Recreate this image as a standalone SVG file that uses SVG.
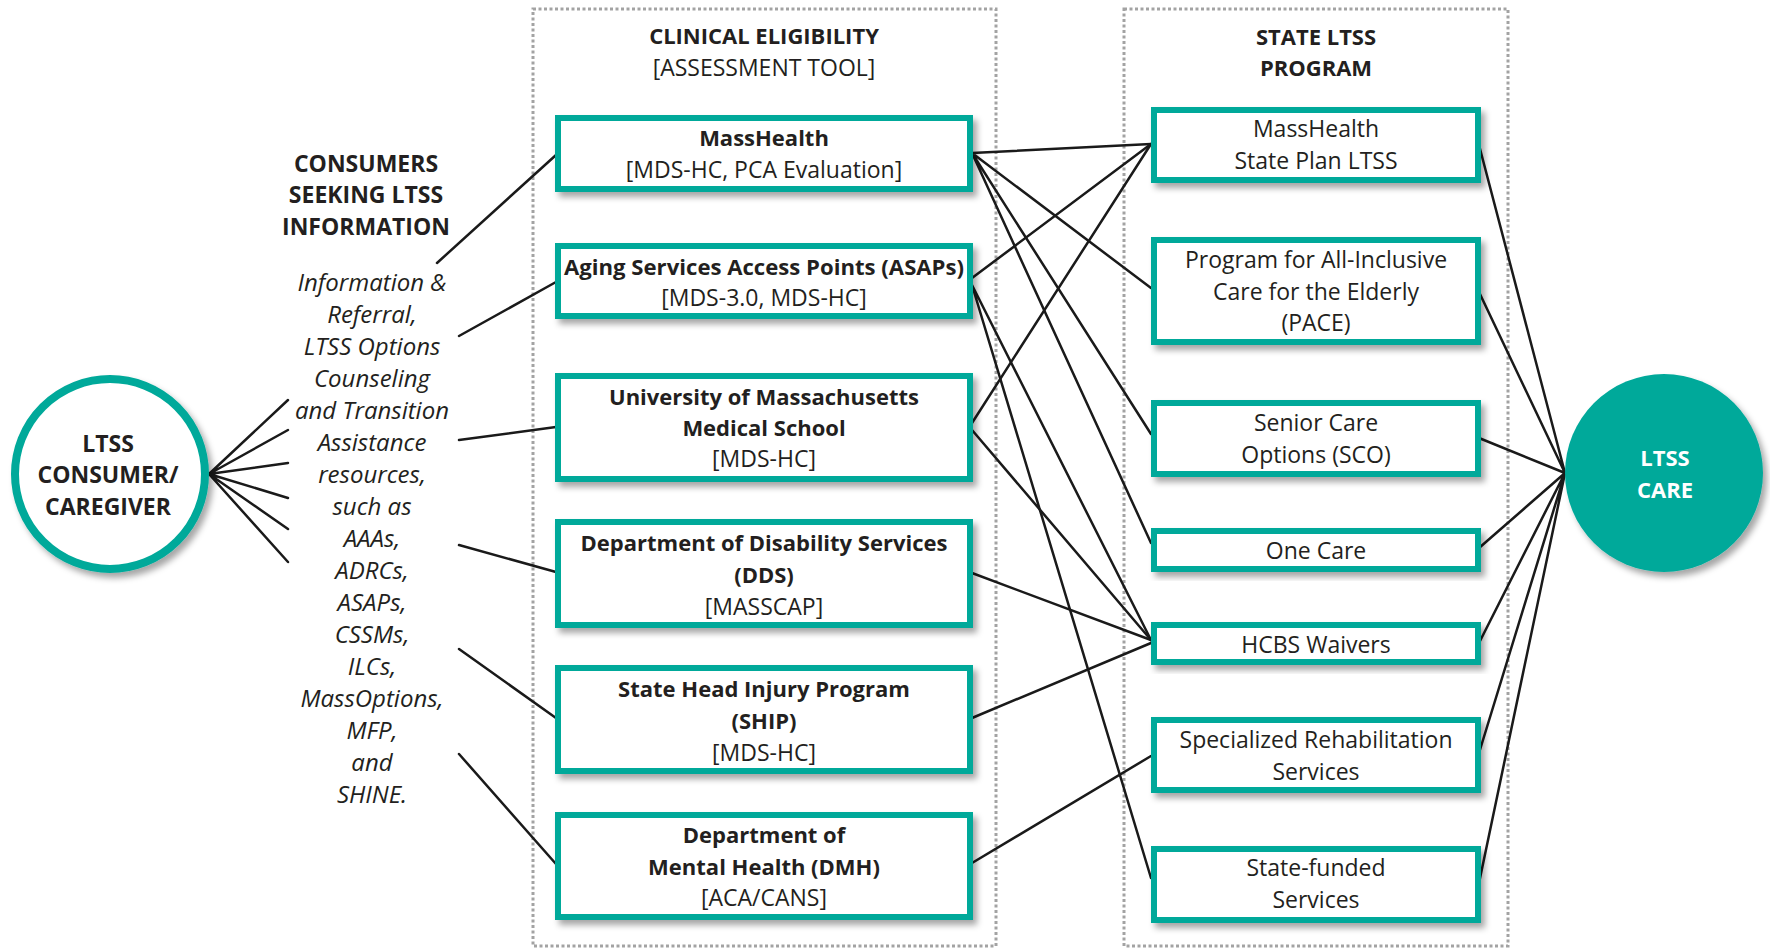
<svg xmlns="http://www.w3.org/2000/svg" width="1770" height="949" viewBox="0 0 1770 949">
<defs>
<filter id="sh" x="-10%" y="-20%" width="130%" height="150%">
<feDropShadow dx="4" dy="5" stdDeviation="3" flood-color="#000" flood-opacity="0.35"/>
</filter>
<style>
.t{font-family:"Open Sans","Noto Sans",sans-serif;font-size:23px;fill:#231f20;text-anchor:middle}
.b{font-weight:bold;font-size:22px}
.h{font-size:23px}
.i{font-style:italic;font-size:24px}
.box{fill:#fff;stroke:#00a99a;stroke-width:6;filter:url(#sh)}
.cont{fill:none;stroke:#a3a3a3;stroke-width:3;stroke-dasharray:3 2.5}
.ln{stroke:#1a1a1a;stroke-width:2.5;fill:none;stroke-linecap:round}
.w{fill:#fff}
</style>
</defs>
<rect width="1770" height="949" fill="#fff"/>

<g id="containers">
<rect class="cont" x="533" y="9" width="463" height="937"/>
<rect class="cont" x="1124" y="9" width="384" height="937"/>
</g>

<g id="titles">
<text class="t b" x="764" y="44">CLINICAL ELIGIBILITY</text>
<text class="t" x="764" y="76">[ASSESSMENT TOOL]</text>
<text class="t b" x="1316" y="45">STATE LTSS</text>
<text class="t b" x="1316" y="76">PROGRAM</text>
</g>

<g id="connectors">
<path class="ln" d="M209 474L288 400M209 474L288 430M209 474L288 463M209 474L288 498M209 474L288 529M209 474L288 562"/>
<path class="ln" d="M437 263L556 155M459 336L556 282M459 440L556 427M459 545L556 572M459 649L556 718M459 754L556 864"/>
<path class="ln" d="M972 153L1151 144M972 153L1151 288M972 153L1151 434M972 153L1151 543"/>
<path class="ln" d="M972 278L1151 144M972 285L1151 640M972 285L1151 878"/>
<path class="ln" d="M972 423L1151 144M972 430L1151 640"/>
<path class="ln" d="M972 573L1151 640M972 718L1151 643M972 863L1151 756"/>
<path class="ln" d="M1479 145L1565 473M1479 292L1565 473M1479 438L1565 473M1479 548L1565 473M1479 643L1565 473M1479 753L1565 473M1479 883L1565 473"/>
</g>

<g id="consumer">
<circle cx="110" cy="474" r="95" fill="#fff" stroke="#00a99a" stroke-width="8" filter="url(#sh)"/>
<text class="t b h" x="108" y="452">LTSS</text>
<text class="t b h" x="108" y="483">CONSUMER/</text>
<text class="t b h" x="108" y="515">CAREGIVER</text>
</g>

<g id="info">
<text class="t b h" x="366" y="172">CONSUMERS</text>
<text class="t b h" x="366" y="203">SEEKING LTSS</text>
<text class="t b h" x="366" y="235">INFORMATION</text>
<text class="t i" x="372" y="291">Information &amp;</text>
<text class="t i" x="372" y="323">Referral,</text>
<text class="t i" x="372" y="355">LTSS Options</text>
<text class="t i" x="372" y="387">Counseling</text>
<text class="t i" x="372" y="419">and Transition</text>
<text class="t i" x="372" y="451">Assistance</text>
<text class="t i" x="372" y="483">resources,</text>
<text class="t i" x="372" y="515">such as</text>
<text class="t i" x="372" y="547">AAAs,</text>
<text class="t i" x="372" y="579">ADRCs,</text>
<text class="t i" x="372" y="611">ASAPs,</text>
<text class="t i" x="372" y="643">CSSMs,</text>
<text class="t i" x="372" y="675">ILCs,</text>
<text class="t i" x="372" y="707">MassOptions,</text>
<text class="t i" x="372" y="739">MFP,</text>
<text class="t i" x="372" y="771">and</text>
<text class="t i" x="372" y="803">SHINE.</text>
</g>

<g id="masshealth">
<rect class="box" x="558" y="118" width="412" height="71"/>
<text class="t b" x="764" y="146">MassHealth</text>
<text class="t" x="764" y="178">[MDS-HC, PCA Evaluation]</text>
</g>
<g id="asaps">
<rect class="box" x="558" y="246" width="412" height="70"/>
<text class="t b" x="764" y="275" textLength="400" lengthAdjust="spacingAndGlyphs">Aging Services Access Points (ASAPs)</text>
<text class="t" x="764" y="306">[MDS-3.0, MDS-HC]</text>
</g>
<g id="umass">
<rect class="box" x="558" y="376" width="412" height="103"/>
<text class="t b" x="764" y="405">University of Massachusetts</text>
<text class="t b" x="764" y="436">Medical School</text>
<text class="t" x="764" y="467">[MDS-HC]</text>
</g>
<g id="dds">
<rect class="box" x="558" y="522" width="412" height="103"/>
<text class="t b" x="764" y="551">Department of Disability Services</text>
<text class="t b" x="764" y="583">(DDS)</text>
<text class="t" x="764" y="615">[MASSCAP]</text>
</g>
<g id="ship">
<rect class="box" x="558" y="668" width="412" height="103"/>
<text class="t b" x="764" y="697">State Head Injury Program</text>
<text class="t b" x="764" y="729">(SHIP)</text>
<text class="t" x="764" y="761">[MDS-HC]</text>
</g>
<g id="dmh">
<rect class="box" x="558" y="815" width="412" height="102"/>
<text class="t b" x="764" y="843">Department of</text>
<text class="t b" x="764" y="875">Mental Health (DMH)</text>
<text class="t" x="764" y="906">[ACA/CANS]</text>
</g>

<g id="mh-spl">
<rect class="box" x="1154" y="110" width="324" height="70"/>
<text class="t" x="1316" y="137">MassHealth</text>
<text class="t" x="1316" y="169">State Plan LTSS</text>
</g>
<g id="pace">
<rect class="box" x="1154" y="240" width="324" height="102"/>
<text class="t" x="1316" y="268">Program for All-Inclusive</text>
<text class="t" x="1316" y="300">Care for the Elderly</text>
<text class="t" x="1316" y="331">(PACE)</text>
</g>
<g id="sco">
<rect class="box" x="1154" y="403" width="324" height="71"/>
<text class="t" x="1316" y="431">Senior Care</text>
<text class="t" x="1316" y="463">Options (SCO)</text>
</g>
<g id="onecare">
<rect class="box" x="1154" y="531" width="324" height="38"/>
<text class="t" x="1316" y="559">One Care</text>
</g>
<g id="hcbs">
<rect class="box" x="1154" y="625" width="324" height="37"/>
<text class="t" x="1316" y="653">HCBS Waivers</text>
</g>
<g id="rehab">
<rect class="box" x="1154" y="720" width="324" height="70"/>
<text class="t" x="1316" y="748">Specialized Rehabilitation</text>
<text class="t" x="1316" y="780">Services</text>
</g>
<g id="statefunded">
<rect class="box" x="1154" y="849" width="324" height="71"/>
<text class="t" x="1316" y="876">State-funded</text>
<text class="t" x="1316" y="908">Services</text>
</g>

<g id="ltss-care">
<circle cx="1664" cy="473" r="99" fill="#00a99a" filter="url(#sh)"/>
<text class="t b w" x="1665" y="466">LTSS</text>
<text class="t b w" x="1665" y="498">CARE</text>
</g>
</svg>
